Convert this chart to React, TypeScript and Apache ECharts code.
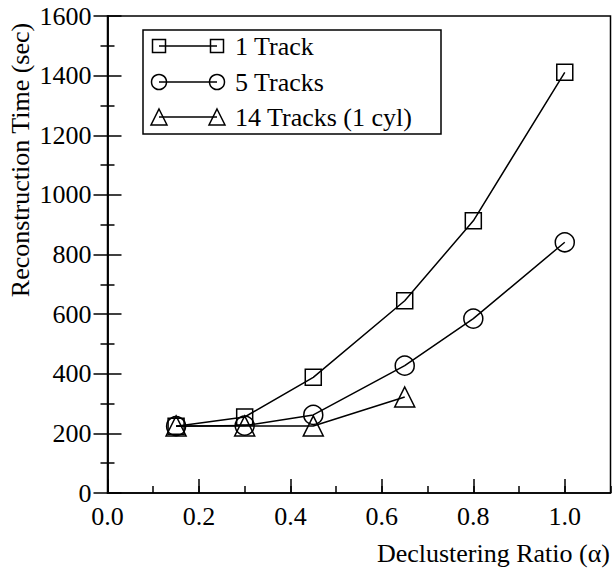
import React, { useEffect, useRef } from "react";
import * as echarts from "echarts";

// ---- data ----
const alphaAll = [0.15, 0.3, 0.45, 0.65, 0.8, 1.0];
const alpha14 = [0.15, 0.3, 0.45, 0.65];
const oneTrack = [224, 255, 388, 645, 913, 1411];
const fiveTracks = [224, 226, 262, 427, 585, 841];
const fourteenTracks = [225, 225, 225, 322];
const seriesNames = ["1 Track", "5 Tracks", "14 Tracks (1 cyl)"];
const xAxisTitle = "Declustering Ratio (\u03b1)";
const yAxisTitle = "Reconstruction Time (sec)";

const FONT = "'Liberation Serif', 'Times New Roman', Times, serif";
const BLACK = "#000";

function legendRow(i: number, cy: number) {
  const x1 = 159;
  const x2 = 217;
  const els: any[] = [
    {
      type: "line",
      z: 20,
      shape: { x1, y1: cy, x2, y2: cy },
      style: { stroke: BLACK, lineWidth: 1.5 },
    },
  ];
  for (const cx of [x1, x2]) {
    if (i === 0) {
      els.push({
        type: "rect",
        z: 20,
        shape: { x: cx - 6.5, y: cy - 6.5, width: 13, height: 13 },
        style: { fill: "none", stroke: BLACK, lineWidth: 1.5 },
      });
    } else if (i === 1) {
      els.push({
        type: "circle",
        z: 20,
        shape: { cx, cy, r: 7.5 },
        style: { fill: "none", stroke: BLACK, lineWidth: 1.5 },
      });
    } else {
      els.push({
        type: "polygon",
        z: 20,
        shape: {
          points: [
            [cx, cy - 8],
            [cx + 8, cy + 8],
            [cx - 8, cy + 8],
          ],
        },
        style: { fill: "none", stroke: BLACK, lineWidth: 1.5 },
      });
    }
  }
  els.push({
    type: "text",
    z: 20,
    x: 235,
    y: cy,
    style: {
      text: seriesNames[i],
      fill: BLACK,
      fontFamily: FONT,
      fontSize: 26,
      align: "left",
      verticalAlign: "middle",
    },
  });
  return els;
}

export default function App() {
  const ref = useRef<HTMLDivElement>(null);

  useEffect(() => {
    if (!ref.current) return;
    const chart = echarts.init(ref.current, null, { renderer: "svg" });

    const lineCommon = {
      type: "line",
      xAxisIndex: 0,
      yAxisIndex: 0,
      showSymbol: true,
      showAllSymbol: true,
      lineStyle: { color: BLACK, width: 1.5 },
      itemStyle: { color: "rgba(0,0,0,0)", borderColor: BLACK, borderWidth: 1.5 },
      emphasis: { disabled: true },
      silent: true,
    };

    const axisLineStyle = { color: BLACK, width: 1.5 };

    chart.setOption({
      animation: false,
      backgroundColor: "#fff",
      grid: {
        left: 107.5,
        right: 2.5,
        top: 16,
        bottom: 75,
        show: true,
        borderColor: BLACK,
        borderWidth: 1.5,
        backgroundColor: "rgba(0,0,0,0)",
      },
      xAxis: [
        {
          type: "value",
          min: 0,
          max: 1.1,
          interval: 0.2,
          position: "bottom",
          axisLine: { show: true, lineStyle: axisLineStyle },
          axisTick: { show: true, inside: true, length: 14, lineStyle: axisLineStyle },
          axisLabel: {
            color: BLACK,
            fontFamily: FONT,
            fontSize: 26,
            margin: 10,
            showMaxLabel: false,
            formatter: (v: number) => v.toFixed(1),
          },
          splitLine: { show: false },
        },
        {
          type: "value",
          min: 0,
          max: 1.1,
          interval: 0.1,
          position: "bottom",
          axisLine: { show: false },
          axisTick: { show: true, inside: true, length: 7, lineStyle: axisLineStyle },
          axisLabel: { show: false },
          splitLine: { show: false },
        },
      ],
      yAxis: [
        {
          type: "value",
          min: 0,
          max: 1600,
          interval: 200,
          position: "left",
          axisLine: { show: true, lineStyle: axisLineStyle },
          axisTick: { show: true, inside: true, length: 14, lineStyle: axisLineStyle },
          minorTick: { show: true, splitNumber: 2, length: 7, lineStyle: axisLineStyle },
          axisLabel: {
            color: BLACK,
            fontFamily: FONT,
            fontSize: 26,
            margin: 16,
            formatter: (v: number) => String(v),
          },
          splitLine: { show: false },
          minorSplitLine: { show: false },
        },
        {
          type: "value",
          min: 0,
          max: 1600,
          interval: 200,
          position: "right",
          axisLine: { show: true, lineStyle: axisLineStyle },
          axisTick: { show: true, inside: true, length: 14, lineStyle: axisLineStyle },
          minorTick: { show: true, splitNumber: 2, length: 7, lineStyle: axisLineStyle },
          axisLabel: { show: false },
          splitLine: { show: false },
          minorSplitLine: { show: false },
        },
      ],
      series: [
        {
          ...lineCommon,
          name: seriesNames[2],
          symbol: "triangle",
          symbolSize: 20,
          data: alpha14.map((x, i) => [x, fourteenTracks[i]]),
        },
        {
          ...lineCommon,
          name: seriesNames[1],
          symbol: "circle",
          symbolSize: 19,
          data: alphaAll.map((x, i) => [x, fiveTracks[i]]),
        },
        {
          ...lineCommon,
          name: seriesNames[0],
          symbol: "rect",
          symbolSize: 16,
          data: alphaAll.map((x, i) => [x, oneTrack[i]]),
        },
      ],
      graphic: [
        {
          type: "rect",
          z: 10,
          shape: { x: 143, y: 30, width: 298, height: 104 },
          style: { fill: "#fff", stroke: BLACK, lineWidth: 1.5 },
        },
        ...legendRow(0, 46),
        ...legendRow(1, 82),
        ...legendRow(2, 117),
        {
          type: "text",
          x: 20,
          y: 160,
          rotation: Math.PI / 2,
          style: {
            text: yAxisTitle,
            fill: BLACK,
            fontFamily: FONT,
            fontSize: 26,
            align: "center",
            verticalAlign: "middle",
          },
        },
        {
          type: "text",
          x: 610,
          y: 553,
          style: {
            text: xAxisTitle,
            fill: BLACK,
            fontFamily: FONT,
            fontSize: 26,
            align: "right",
            verticalAlign: "middle",
          },
        },
      ],
    });

    return () => chart.dispose();
  }, []);

  return (
    <div
      ref={ref}
      style={{ position: "absolute", left: 0, top: 0, width: 613, height: 568 }}
    />
  );
}
